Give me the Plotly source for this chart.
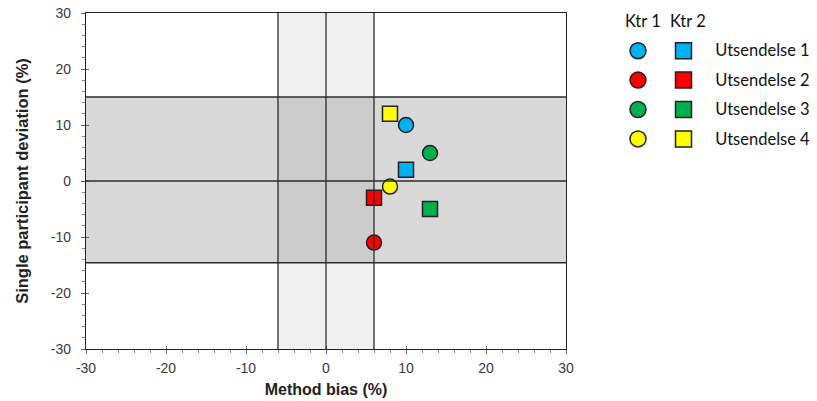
import plotly.graph_objects as go

# ---------------- data ----------------
series = ["Utsendelse 1", "Utsendelse 2", "Utsendelse 3", "Utsendelse 4"]
controls = ["Ktr 1", "Ktr 2"]
colors = ["#00B0F0", "#FF0000", "#00B050", "#FFFF00"]

ktr1_bias = [10, 6, 13, 8]
ktr1_dev = [10, -11, 5, -1]
ktr2_bias = [10, 6, 13, 8]
ktr2_dev = [2, -3, -5, 12]

bias_limit = [-6, 6]
dev_limit = [-14.6, 15]
axis_range = [-30, 30]
tick_vals = [-30, -20, -10, 0, 10, 20, 30]
tick_text = ["-30", "-20", "-10", "0", "10", "20", "30"]

# ---------------- layout geometry ----------------
W, H = 817, 401
ML, MR, MT, MB = 86, 0, 13, 52
PW = W - ML - MR
main_dom = [0, 480 / PW]

font_axis = "Liberation Sans, Arial, sans-serif"
font_leg = "Lato, Calibri, sans-serif"
line_col = "#2b2b2b"

fig = go.Figure()

symbols = ["circle", "square"]
xs = [ktr1_bias, ktr2_bias]
ys = [ktr1_dev, ktr2_dev]
for k in range(2):
    fig.add_trace(go.Scatter(
        x=xs[k], y=ys[k], mode="markers", showlegend=False,
        marker=dict(symbol=symbols[k], size=15, color=colors,
                    line=dict(color="#222", width=1.5)),
        xaxis="x", yaxis="y", hoverinfo="skip"))

# legend (custom) on helper category axes
for k in range(2):
    fig.add_trace(go.Scatter(
        x=[controls[k]] * len(series), y=series, mode="markers", showlegend=False,
        marker=dict(symbol=symbols[k], size=16, color=colors,
                    line=dict(color="#222", width=1.5)),
        xaxis="x2", yaxis="y2", hoverinfo="skip"))

# invisible trace for overlay tick axes
fig.add_trace(go.Scatter(x=[0], y=[0], mode="markers", marker=dict(opacity=0),
                         showlegend=False, xaxis="x3", yaxis="y3", hoverinfo="skip"))

shapes = []
shapes.append(dict(type="rect", xref="x", yref="y", x0=axis_range[0], x1=axis_range[1],
                   y0=dev_limit[0], y1=dev_limit[1], fillcolor="#d9d9d9",
                   line=dict(width=0), layer="below"))
shapes.append(dict(type="rect", xref="x", yref="y", x0=bias_limit[0], x1=bias_limit[1],
                   y0=axis_range[0], y1=axis_range[1], fillcolor="rgba(0,0,0,0.06)",
                   line=dict(width=0), layer="below"))
for xv in [bias_limit[0], 0, bias_limit[1]]:
    shapes.append(dict(type="line", xref="x", yref="y", x0=xv, x1=xv,
                       y0=axis_range[0], y1=axis_range[1],
                       line=dict(color=line_col, width=1.3), layer="above"))
for yv in [dev_limit[0], 0, dev_limit[1]]:
    shapes.append(dict(type="line", xref="x", yref="y", x0=axis_range[0], x1=axis_range[1],
                       y0=yv, y1=yv, line=dict(color=line_col, width=1.3), layer="above"))

# legend column headers
annotations = []
for k in range(2):
    annotations.append(dict(text=controls[k], xref="x2", yref="y2", x=k, y=-0.5,
                            xanchor="center", yanchor="middle", xshift=4.5, yshift=14.5,
                            showarrow=False,
                            font=dict(family=font_leg, size=16.5, color="#111")))

tickfont = dict(family=font_axis, size=14, color="#3a3a3a")

common = dict(range=axis_range, tickmode="array", tickvals=tick_vals, ticktext=tick_text,
              showgrid=False, zeroline=False,
              showline=True, linecolor="#222", linewidth=1.3, mirror=True,
              ticks="outside", ticklen=4, tickcolor="#666", tickwidth=1,
              minor=dict(dtick=2, ticks="outside", ticklen=3, tickcolor="#888"),
              tickfont=tickfont, automargin=False)

cat_sp = 45.5
x2_left = 638 - cat_sp / 2
x2_right = x2_left + 2 * cat_sp
row_sp = 29.4
y2_top = 50.7 - row_sp / 2
y2_bot = y2_top + 4 * row_sp
PH = H - MT - MB

fig.update_layout(
    width=W, height=H,
    margin=dict(l=ML, r=MR, t=MT, b=MB, autoexpand=False),
    paper_bgcolor="white", plot_bgcolor="rgba(0,0,0,0)",
    shapes=shapes, annotations=annotations,
    xaxis=dict(domain=main_dom, anchor="y", ticklabelstandoff=2,
               title=dict(text="Method bias (%)", standoff=8,
                          font=dict(family=font_axis, size=16, color="#222", weight="bold")),
               **common),
    yaxis=dict(domain=[0, 1], anchor="x", ticklabelstandoff=7,
               title=dict(text="Single participant deviation (%)", standoff=18,
                          font=dict(family=font_axis, size=16.5, color="#222", weight="bold")),
               **common),
    xaxis3=dict(domain=main_dom, overlaying="x", anchor="y3", range=axis_range,
                tickmode="array", tickvals=tick_vals,
                ticks="inside", ticklen=3, tickcolor="#666", showticklabels=False,
                showgrid=False, zeroline=False, showline=False, automargin=False),
    yaxis3=dict(overlaying="y", anchor="x3", range=axis_range,
                tickmode="array", tickvals=tick_vals,
                ticks="inside", ticklen=3, tickcolor="#666", showticklabels=False,
                showgrid=False, zeroline=False, showline=False, automargin=False),
    xaxis2=dict(domain=[(x2_left - ML) / PW, (x2_right - ML) / PW], anchor="y2",
                type="category", categoryorder="array", categoryarray=controls,
                range=[-0.5, 1.5], showgrid=False, zeroline=False,
                showline=False, ticks="", showticklabels=False, automargin=False),
    yaxis2=dict(domain=[(H - MB - y2_bot) / PH, (H - MB - y2_top) / PH], anchor="x2",
                type="category", categoryorder="array", categoryarray=series,
                range=[3.5, -0.5], side="right", showgrid=False, zeroline=False,
                showline=False, ticks="", ticklabelstandoff=8, automargin=False,
                tickfont=dict(family=font_leg, size=16.5, color="#111")),
)

fig.write_html("out.html")
